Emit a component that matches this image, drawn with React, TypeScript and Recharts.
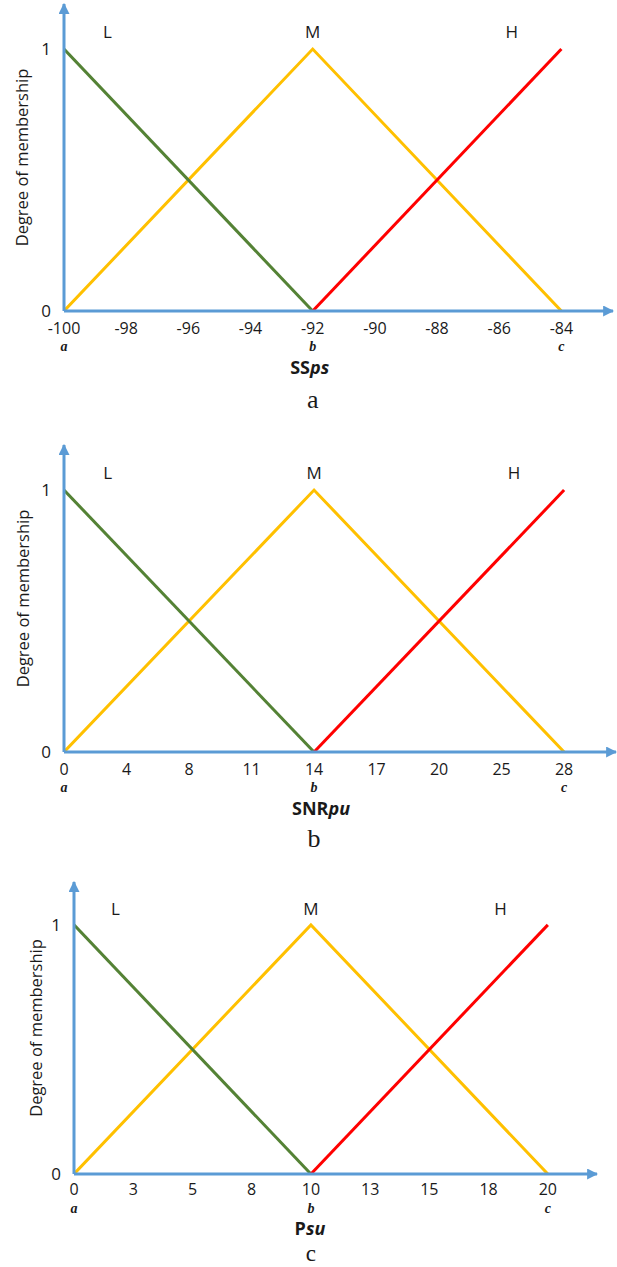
import React from "react";
import { LineChart, Line, XAxis, YAxis, ReferenceDot } from "recharts";

// tick labels of the three inputs (evenly spaced on the axis)
const ssTicks = ["-100", "-98", "-96", "-94", "-92", "-90", "-88", "-86", "-84"];
const snrTicks = ["0", "4", "8", "11", "14", "17", "20", "25", "28"];
const psuTicks = ["0", "3", "5", "8", "10", "13", "15", "18", "20"];

// breakpoints a, b, c of each input
const ssBreaks = ["-100", "-92", "-84"];
const snrBreaks = ["0", "14", "28"];
const psuBreaks = ["0", "10", "20"];
const breakLetters = ["a", "b", "c"];

// membership degree at a, b, c
const lowDegree = [1, 0, null];
const midDegree = [0, 1, 0];
const highDegree = [null, 0, 1];

const setNames = ["L", "M", "H"];
const yTicks = [0, 1];

const AXIS = "#5B9BD5";
const TEXT = "#1a1a1a";
const SANS = "'Open Sans', sans-serif";
const SERIF = "'Liberation Serif', 'Times New Roman', serif";
const X_MAX = 8.83;
const Y_MAX = 1.172;
const SET_LABEL_X = [0.7, 4, 7.2];
const SET_LABEL_Y = 1.065;

const panels = [
  {
    ticks: ssTicks, breaks: ssBreaks, title: [["SS", false], ["ps", true]], caption: "a",
    top: 0, height: 420, mt: 4, mr: 4, yw: 64, xh: 109,
    tickDy: 22.5, letterDy: 40, titleDy: 63, titleDx: -3, captionDy: 97, captionSize: 26, yLabelX: 21,
  },
  {
    ticks: snrTicks, breaks: snrBreaks, title: [["SNR", false], ["pu", true]], caption: "b",
    top: 440, height: 420, mt: 5, mr: 1, yw: 64, xh: 108,
    tickDy: 22.5, letterDy: 40, titleDy: 63, titleDx: 7, captionDy: 95, captionSize: 26, yLabelX: 22,
  },
  {
    ticks: psuTicks, breaks: psuBreaks, title: [["P", false], ["su", true]], caption: "c",
    top: 870, height: 397, mt: 12, mr: 20, yw: 74, xh: 93,
    tickDy: 21, letterDy: 38.5, titleDy: 61, titleDx: -1, captionDy: 87, captionSize: 23, yLabelX: 35,
  },
];

type PanelCfg = (typeof panels)[number];

function Panel({ p }: { p: PanelCfg }) {
  const rows = p.breaks.map((b, i) => ({
    x: p.ticks.indexOf(b),
    low: lowDegree[i],
    mid: midDegree[i],
    high: highDegree[i],
  }));
  const tickIdx = p.ticks.map((_, i) => i);
  const letterAt = (i: number) => {
    const k = p.breaks.indexOf(p.ticks[i]);
    return k >= 0 ? breakLetters[k] : null;
  };

  const renderTick = (props: any) => {
    const { x, y, payload } = props;
    const letter = letterAt(payload.value);
    return (
      <g>
        <text x={x} y={y + p.tickDy} textAnchor="middle" fill={TEXT} fontFamily={SANS} fontSize={16}>
          {p.ticks[payload.value]}
        </text>
        {letter && (
          <text x={x} y={y + p.letterDy} textAnchor="middle" fill={TEXT} fontFamily={SERIF}
            fontSize={14} fontWeight="bold" fontStyle="italic">
            {letter}
          </text>
        )}
      </g>
    );
  };

  const renderXLabel = (props: any) => {
    const vb = props.viewBox;
    const bx = vb.x + (vb.width * 4) / X_MAX;
    return (
      <g>
        <text x={bx + p.titleDx} y={vb.y + p.titleDy} textAnchor="middle" fill={TEXT}
          fontFamily={SANS} fontSize={18} fontWeight="bold">
          {p.title.map(([s, it], i) => (
            <tspan key={i} fontStyle={it ? "italic" : "normal"}>{s as string}</tspan>
          ))}
        </text>
        <text x={bx} y={vb.y + p.captionDy} textAnchor="middle" fill={TEXT}
          fontFamily={SERIF} fontSize={p.captionSize}>
          {p.caption}
        </text>
      </g>
    );
  };

  const renderYLabel = (props: any) => {
    const vb = props.viewBox;
    const cx = vb.x + p.yLabelX;
    const cy = vb.y + vb.height / 2;
    return (
      <text x={cx} y={cy} transform={`rotate(-90 ${cx} ${cy})`} textAnchor="middle"
        dominantBaseline="central" fill={TEXT} fontFamily={SANS} fontSize={16.5}>
        Degree of membership
      </text>
    );
  };

  return (
    <div style={{ position: "absolute", left: 0, top: p.top }}>
      <LineChart width={617} height={p.height} data={rows}
        margin={{ top: p.mt, right: p.mr, bottom: 0, left: 0 }}>
        <XAxis type="number" dataKey="x" domain={[0, X_MAX]} ticks={tickIdx} interval={0}
          allowDataOverflow tickLine={false} tickSize={0} tickMargin={0} height={p.xh}
          axisLine={{ stroke: AXIS, strokeWidth: 3, markerEnd: "url(#axisArrow)" }}
          tick={renderTick} label={{ content: renderXLabel }} />
        <YAxis type="number" domain={[0, Y_MAX]} ticks={yTicks} interval={0} allowDataOverflow
          width={p.yw} tickLine={false} tickSize={0} tickMargin={13}
          axisLine={{ stroke: AXIS, strokeWidth: 3, markerStart: "url(#axisArrow)" }}
          tick={{ fill: TEXT, fontSize: 17, fontFamily: SANS }}
          label={{ content: renderYLabel }} />
        <Line dataKey="mid" stroke="#FFC000" strokeWidth={3} dot={false} activeDot={false}
          isAnimationActive={false} connectNulls={false} />
        <Line dataKey="low" stroke="#548235" strokeWidth={3} dot={false} activeDot={false}
          isAnimationActive={false} connectNulls={false} />
        <Line dataKey="high" stroke="#FF0000" strokeWidth={3} dot={false} activeDot={false}
          isAnimationActive={false} connectNulls={false} />
        {setNames.map((n, i) => (
          <ReferenceDot key={n} x={SET_LABEL_X[i]} y={SET_LABEL_Y} r={0} fill="none" stroke="none"
            label={{ value: n, position: "center", fill: TEXT, fontSize: 17, fontFamily: SANS }} />
        ))}
      </LineChart>
    </div>
  );
}

export default function App() {
  return (
    <div style={{ position: "absolute", left: 0, top: 0, width: 617, height: 1267, background: "#fff" }}>
      <svg width={0} height={0} style={{ position: "absolute" }}>
        <defs>
          <marker id="axisArrow" viewBox="0 0 10 10" refX={9} refY={5} markerWidth={11} markerHeight={11}
            markerUnits="userSpaceOnUse" orient="auto-start-reverse">
            <path d="M0,0 L10,5 L0,10 z" fill={AXIS} />
          </marker>
        </defs>
      </svg>
      {panels.map((p, i) => (
        <Panel key={i} p={p} />
      ))}
    </div>
  );
}
